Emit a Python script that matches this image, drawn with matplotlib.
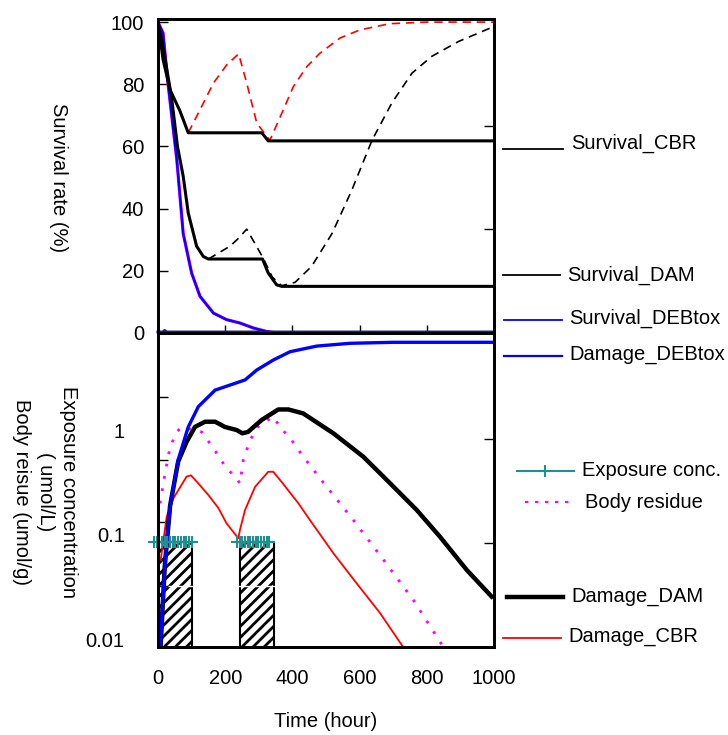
import matplotlib
matplotlib.use("Agg")
import matplotlib.pyplot as plt
from matplotlib.lines import Line2D

plt.rcParams['font.family'] = ['Liberation Sans', 'DejaVu Sans']
plt.rcParams['font.size'] = 14.5
plt.rcParams['hatch.linewidth'] = 2.0
plt.rcParams['hatch.color'] = '#333333'

# survival (%)
cbr_t = [0, 15, 36, 65, 90, 309, 328, 1000]
cbr_s = [100, 88, 78.2, 71.5, 64.4, 64.4, 61.8, 61.8]
cbr_rec_t = [90, 125, 165, 205, 240, 264, 294, 333, 373, 403, 443, 482, 542, 601, 690, 800, 1000]
cbr_rec_s = [64.4, 71.8, 80.4, 86.3, 89.8, 80.4, 67.5, 62, 71.8, 79.3, 85.7, 90, 94.9, 97.5, 99.5, 100, 100]
dam_t = [0, 15, 40, 58, 75, 90, 115, 135, 150, 311, 328, 353, 368, 1000]
dam_s = [100, 92, 76, 60, 50.4, 38.6, 27.9, 24.6, 23.8, 23.8, 19.3, 15.5, 15, 15]
dam_rec_t = [150, 214, 240, 264, 290, 313, 340, 368, 408, 457, 518, 577, 637, 696, 756, 815, 895, 1000]
dam_rec_s = [23.8, 27.9, 30.5, 33.4, 28.5, 24.1, 18, 15.2, 16.3, 21.4, 32, 46, 62, 74, 83.6, 89, 93.8, 98.6]
deb_t = [0, 15, 30, 56, 75, 100, 125, 165, 204, 244, 284, 323, 353, 1000]
deb_s = [100, 96.5, 80, 55.7, 32, 19.3, 11.8, 6.4, 4.3, 3.2, 1.6, 0.5, 0, 0]
base_t = [0, 15, 20, 25, 1000]
base_s = [0.3, 0.3, 0.8, 0.3, 0.3]

# damage / residue / exposure
deb_dmg_t = [8, 11, 21, 36, 60, 90, 120, 170, 259, 294, 343, 393, 472, 571, 700, 1000]
deb_dmg = [0.009, 0.0155, 0.054, 0.186, 0.52, 1.07, 1.67, 2.4, 3.0, 3.73, 4.64, 5.57, 6.3, 6.7, 6.85, 6.85]
dam_dmg_t = [8, 20, 36, 60, 85, 110, 140, 170, 199, 234, 251, 268, 309, 358, 388, 432, 522, 611, 681, 770, 839, 919, 993]
dam_dmg = [0.009, 0.05, 0.19, 0.5, 0.77, 1.07, 1.2, 1.2, 1.07, 1.0, 0.93, 0.96, 1.25, 1.57, 1.57, 1.44,
           0.93, 0.557, 0.334, 0.173, 0.0964, 0.0464, 0.0259]
cbr_dmg_t = [8, 26, 46, 85, 98, 120, 150, 180, 204, 239, 244, 259, 289, 328, 343, 368, 418, 452, 522, 591, 661, 725, 760]
cbr_dmg = [0.058, 0.15, 0.224, 0.36, 0.37, 0.31, 0.24, 0.18, 0.129, 0.093, 0.112, 0.173, 0.288, 0.40, 0.40,
           0.32, 0.2, 0.139, 0.067, 0.0347, 0.018, 0.009, 0.006]
body_t = [6, 21, 36, 56, 70, 130, 165, 204, 230, 244, 254, 274, 300, 343, 363, 398, 428, 502, 581, 671, 760, 849, 880]
body = [0.2, 0.39, 0.69, 0.96, 1.07, 0.96, 0.67, 0.43, 0.36, 0.31, 0.52, 0.80, 1.1, 1.34, 1.07, 0.8, 0.58,
        0.288, 0.139, 0.058, 0.024, 0.0086, 0.006]
pulse_start = [0, 245]
pulse_end = [100, 345]
pulse_conc = [0.085, 0.085]
expo_t1 = [-12, -4, 4, 12, 20, 28, 36, 44, 52, 60, 68, 76, 84, 92, 100]
expo_t2 = [235, 243, 251, 259, 267, 275, 283, 291, 299, 307, 315, 323, 331]

W, H = 728, 735
fig = plt.figure(figsize=(7.28, 7.35), dpi=100)
L, R = 158 / W, 494 / W
ax1 = fig.add_axes([L, 1 - 333 / H, R - L, (333 - 19) / H])
ax2 = fig.add_axes([L, 1 - 647 / H, R - L, (647 - 333) / H])

# top panel
ax1.plot(deb_t, deb_s, color='magenta', lw=2.3, zorder=2)
ax1.plot(deb_t, deb_s, color='blue', lw=1.7, zorder=3)
ax1.plot(base_t, base_s, color='#1a1a80', lw=2.2, zorder=3, clip_on=False)
ax1.plot(cbr_rec_t, cbr_rec_s, color='red', lw=1.2, dashes=(5, 3.5))
ax1.plot(dam_rec_t, dam_rec_s, color='black', lw=1.2, dashes=(5, 3.5))
ax1.plot(cbr_t, cbr_s, color='black', lw=2.2, zorder=4)
ax1.plot(dam_t, dam_s, color='black', lw=2.2, zorder=4)
ax1.set_xlim(0, 1000)
ax1.set_ylim(0, 101)
ax1.set_yticks([0, 20, 40, 60, 80, 100])
ax1.set_xticks([200, 400, 600, 800])
ax1.tick_params(axis='x', direction='in', length=6, labelbottom=False, width=1)
ax1.tick_params(axis='y', direction='in', length=7, pad=10, width=1)
r1 = ax1.twinx()
r1.set_ylim(0, 101)
r1.set_yticks([100 / 3, 200 / 3])
r1.tick_params(axis='y', direction='in', length=7, labelright=False, width=1)
for a in (ax1, r1):
    for s in a.spines.values():
        s.set_linewidth(2)

# bottom panel
ax2.bar(pulse_start, [c - 1e-4 for c in pulse_conc], bottom=1e-4,
        width=[e - s for s, e in zip(pulse_start, pulse_end)], align='edge',
        facecolor='white', edgecolor='black', hatch='///', lw=1.5, zorder=1)
ax2.axhline(0.0327, color='white', lw=1, zorder=1.5)
ax2.plot(expo_t1, [pulse_conc[0]] * len(expo_t1), color='#1f8f8f', lw=1.5, marker='+',
         ms=8, mew=1.5, clip_on=False, zorder=5)
ax2.plot(expo_t2, [pulse_conc[1]] * len(expo_t2), color='#1f8f8f', lw=1.5, marker='+',
         ms=8, mew=1.5, zorder=5)
ax2.plot(cbr_dmg_t, cbr_dmg, color='red', lw=1.3, zorder=3)
ax2.plot(body_t, body, color='magenta', lw=2, dashes=(1, 3.5), zorder=3)
ax2.plot(dam_dmg_t, dam_dmg, color='black', lw=3.2, zorder=3)
ax2.plot(deb_dmg_t, deb_dmg, color='blue', lw=2.4, zorder=4)
ax2.set_yscale('log')
ax2.set_xlim(0, 1000)
ax2.set_ylim(0.00857, 8.4)
ax2.set_yticks([0.01, 0.1, 1])
ax2.set_yticklabels(['0.01', '0.1', '1'])
ax2.set_yticks([0.033, 0.133, 0.52, 2.06], minor=True)
ax2.yaxis.set_minor_formatter(plt.NullFormatter())
ax2.tick_params(axis='y', which='major', length=0, pad=24)
ax2.tick_params(axis='y', which='minor', direction='in', length=7, width=1)
ax2.set_xticks([0, 200, 400, 600, 800, 1000])
ax2.tick_params(axis='x', length=0, pad=16)
ax2.set_xlabel('Time (hour)', labelpad=17)
r2 = ax2.twinx()
r2.set_yscale('log')
r2.set_ylim(0.00857, 8.4)
r2.set_yticks([0.084, 0.82])
r2.yaxis.set_major_formatter(plt.NullFormatter())
r2.yaxis.set_minor_locator(plt.NullLocator())
r2.tick_params(axis='y', direction='in', length=7, width=1)
for a in (ax2, r2):
    for s in a.spines.values():
        s.set_linewidth(2)

fig.text(58 / W, 1 - 178 / H, 'Survival rate (%)', rotation=-90, ha='center', va='center')
fig.text(45 / W, 1 - 492 / H, 'Exposure concentration\n( umol/L)\nBody reisue (umol/g)',
         rotation=-90, ha='center', va='center', multialignment='center', linespacing=1.3)

# legend entries at the right
legend_items = [
    ('Survival_CBR', 503, 563, 149, 571, 143, dict(color='black', lw=1.3)),
    ('Survival_DAM', 503, 560, 275, 567, 275, dict(color='black', lw=1.3)),
    ('Survival_DEBtox', 504, 562, 320, 569, 318, dict(color='blue', lw=1.3)),
    ('Damage_DEBtox', 504, 562, 356, 569, 355, dict(color='blue', lw=1.6)),
    ('Exposure conc.', 517, 574, 471, 582, 470, dict(color='#1f8f8f', lw=1.5)),
    ('Body residue', 525, 575, 502, 585, 503, dict(color='magenta', lw=1.6, dashes=(1.5, 3))),
    ('Damage_DAM', 507, 563, 597, 571, 597, dict(color='black', lw=3.2)),
    ('Damage_CBR', 503, 561, 638, 568, 637, dict(color='red', lw=1.3)),
]
for label, x0, x1, ly, tx, ty, style in legend_items:
    fig.add_artist(Line2D([x0 / W, x1 / W], [1 - ly / H, 1 - ly / H],
                          transform=fig.transFigure, **style))
    fig.text(tx / W, 1 - ty / H, label, ha='left', va='center')
fig.add_artist(Line2D([545 / W], [1 - 471 / H], transform=fig.transFigure,
                      color='#1f8f8f', marker='+', ms=8, mew=1.5))

fig.savefig('out.png', dpi=100)
